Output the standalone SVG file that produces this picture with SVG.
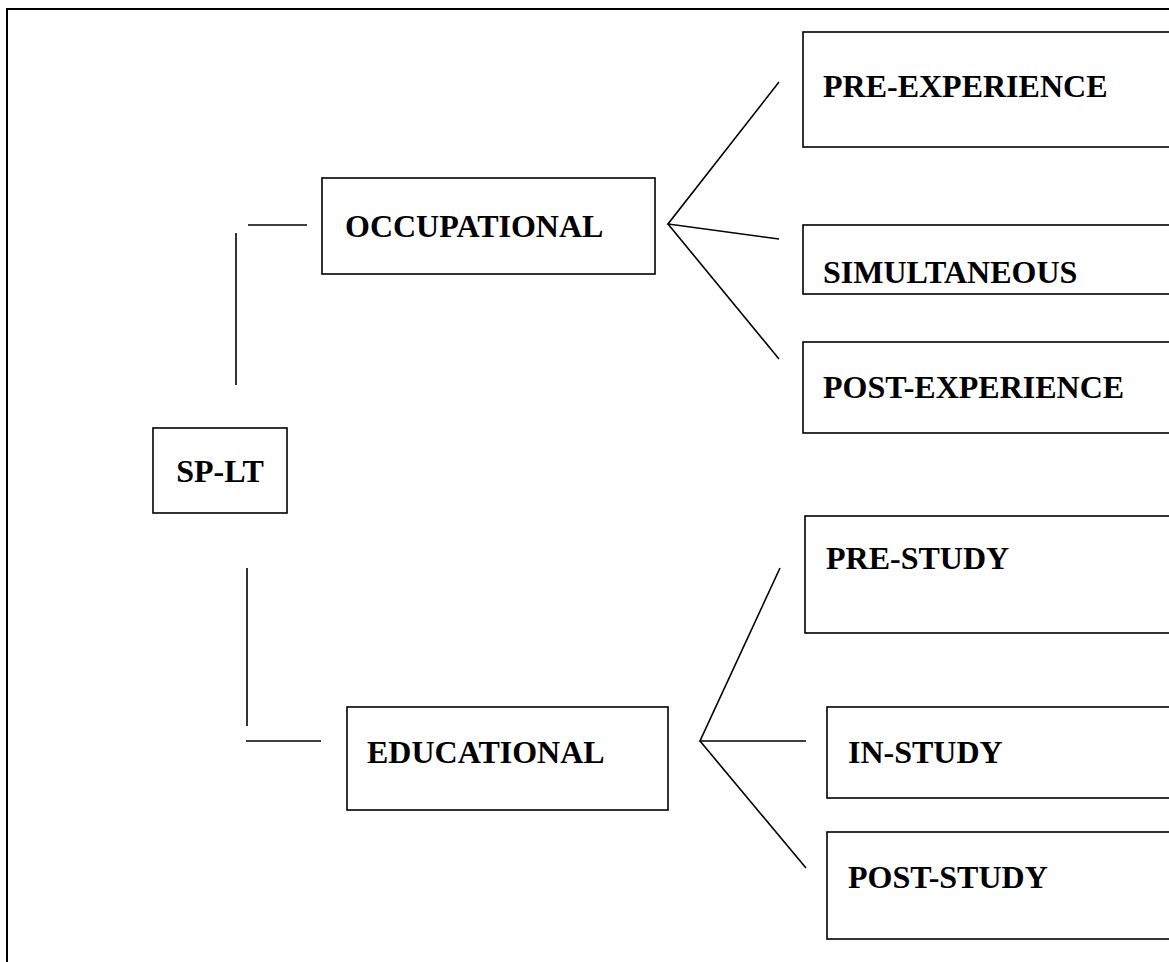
<svg xmlns="http://www.w3.org/2000/svg" width="1169" height="962" viewBox="0 0 1169 962">
  <style>
    .box { fill: #ffffff; stroke: #000000; stroke-width: 1.6; }
    .frame { fill: none; stroke: #000000; stroke-width: 2; }
    .link { fill: none; stroke: #000000; stroke-width: 1.6; }
    .label { font-family: "Liberation Serif", "Times New Roman", serif; font-weight: bold; font-size: 32px; fill: #000000; }
  </style>
  <rect width="1169" height="962" fill="#ffffff"/>

  <!-- outer frame, open to the right and bottom -->
  <path class="frame" d="M7,970 V9 H1180"/>

  <!-- connectors -->
  <g id="connectors">
    <line class="link" x1="248" y1="225" x2="307" y2="225"/>
    <line class="link" x1="236" y1="233" x2="236" y2="385"/>
    <line class="link" x1="247" y1="568" x2="247" y2="726"/>
    <line class="link" x1="246" y1="741" x2="321" y2="741"/>
    <!-- occupational fan -->
    <polyline class="link" points="779,82 668,224 779,239"/>
    <line class="link" x1="668" y1="224" x2="779" y2="359"/>
    <!-- educational fan -->
    <polyline class="link" points="780,568 700,741 806,741"/>
    <line class="link" x1="700" y1="741" x2="806" y2="868"/>
  </g>

  <g id="sp-lt">
    <rect class="box" x="153" y="428" width="134" height="85"/>
    <text class="label" x="220" y="482" text-anchor="middle">SP-LT</text>
  </g>

  <g id="occupational">
    <rect class="box" x="322" y="178" width="333" height="96"/>
    <text class="label" x="345" y="237">OCCUPATIONAL</text>
  </g>

  <g id="educational">
    <rect class="box" x="347" y="707" width="321" height="103"/>
    <text class="label" x="367" y="763">EDUCATIONAL</text>
  </g>

  <g id="pre-experience">
    <rect class="box" x="803" y="32" width="400" height="115"/>
    <text class="label" x="823" y="97">PRE-EXPERIENCE</text>
  </g>

  <g id="simultaneous">
    <rect class="box" x="803" y="225" width="400" height="69"/>
    <text class="label" x="823" y="283">SIMULTANEOUS</text>
  </g>

  <g id="post-experience">
    <rect class="box" x="803" y="342" width="400" height="91"/>
    <text class="label" x="823" y="398">POST-EXPERIENCE</text>
  </g>

  <g id="pre-study">
    <rect class="box" x="805" y="516" width="400" height="117"/>
    <text class="label" x="826" y="569">PRE-STUDY</text>
  </g>

  <g id="in-study">
    <rect class="box" x="827" y="707" width="400" height="91"/>
    <text class="label" x="848" y="763">IN-STUDY</text>
  </g>

  <g id="post-study">
    <rect class="box" x="827" y="832" width="400" height="107"/>
    <text class="label" x="848" y="888">POST-STUDY</text>
  </g>
</svg>
